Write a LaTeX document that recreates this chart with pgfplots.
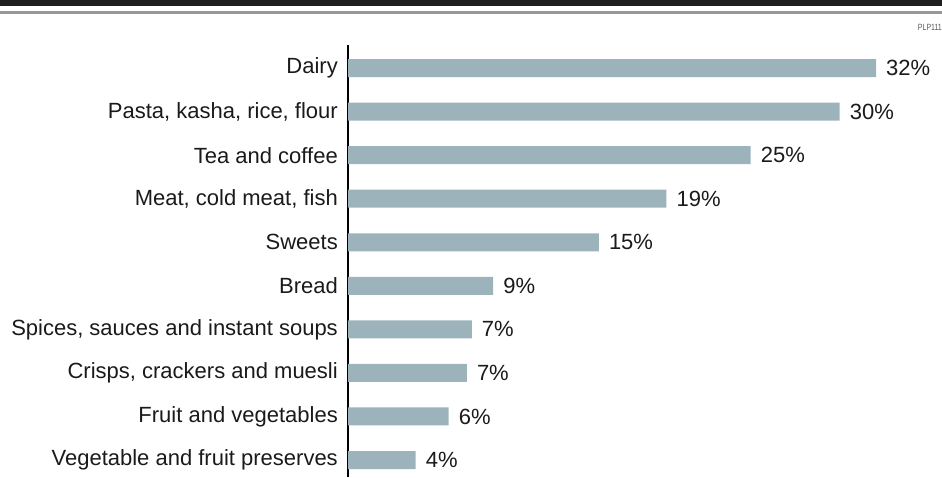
\documentclass[border=0pt]{standalone}
\usepackage{pgfplots}
\pgfplotsset{compat=1.18}
\usepackage{fontspec}
\setmainfont{Liberation Sans}
\definecolor{barc}{HTML}{9CB3BC}
\definecolor{txt}{HTML}{1A1A1A}
\begin{document}
\begin{tikzpicture}[x=1pt,y=1pt]
\useasboundingbox (0,0) rectangle (942,477);
\fill[black!88] (0,471) rectangle (942,477);
\fill[black!40] (0,463) rectangle (942,466);
\node[anchor=east, font=\fontsize{9}{10}\selectfont, text=black!65, inner sep=0pt, xscale=0.78] at (942,450) {PLP111};
\begin{axis}[at={(348pt,0pt)}, anchor=south west, scale only axis,
  width=594pt, height=432pt,
  xmin=0, xmax=36, ymin=-0.53, ymax=9.39, y dir=reverse,
  xbar, bar width=18pt,
  axis x line=none, axis y line*=left,
  y axis line style={-, line width=2pt, black},
  ytick={0,...,9},
  yticklabels={Dairy, {Pasta, kasha, rice, flour}, Tea and coffee, {Meat, cold meat, fish}, Sweets, Bread, {Spices, sauces and instant soups}, {Crisps, crackers and muesli}, Fruit and vegetables, Vegetable and fruit preserves},
  major tick length=0pt,
  yticklabel style={font=\fontsize{22}{24}\selectfont, text=txt, inner sep=0pt, xshift=-10pt},
  nodes near coords, point meta=explicit symbolic,
  nodes near coords style={font=\fontsize{22}{24}\selectfont, text=txt, anchor=west, inner sep=0pt, xshift=10pt},
  clip=false]
\addplot[fill=barc, draw=none] coordinates {
 (32.0,0) [32\%]
 (29.8,1) [30\%]
 (24.4,2) [25\%]
 (19.3,3) [19\%]
 (15.2,4) [15\%]
 (8.8,5) [9\%]
 (7.5,6) [7\%]
 (7.2,7) [7\%]
 (6.1,8) [6\%]
 (4.1,9) [4\%]
};
\end{axis}
\end{tikzpicture}
\end{document}
